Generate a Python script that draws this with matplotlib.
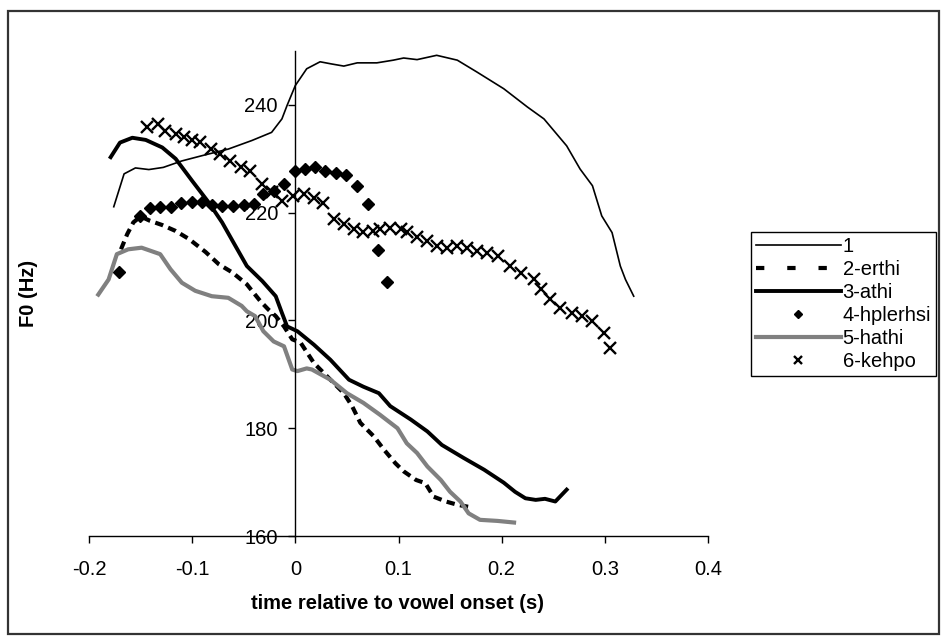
import numpy as np
import matplotlib
matplotlib.use("Agg")
import matplotlib.pyplot as plt
from matplotlib.lines import Line2D
from matplotlib.patches import Rectangle

plt.rcParams["font.family"] = ["Liberation Sans", "DejaVu Sans"]

# series 1 (thin black line)
t1 = [-0.176, -0.166, -0.155, -0.142, -0.128, -0.110, -0.090, -0.065, -0.042,
      -0.023, -0.013, -0.008, 0.000, 0.011, 0.024, 0.035, 0.047, 0.060, 0.079,
      0.095, 0.105, 0.118, 0.137, 0.157, 0.176, 0.202, 0.225, 0.241, 0.263,
      0.276, 0.288, 0.297, 0.307, 0.315, 0.320, 0.328]
f1 = [221.1, 227.2, 228.3, 228.0, 228.4, 229.6, 230.6, 231.8, 233.4,
      234.9, 237.4, 239.9, 243.6, 246.7, 248.0, 247.6, 247.2, 247.8, 247.8,
      248.3, 248.7, 248.4, 249.2, 248.3, 246.1, 243.0, 239.6, 237.4, 232.4,
      228.1, 225.0, 219.4, 216.3, 210.1, 207.6, 204.5]

# series 2 (dashed)
t2 = [-0.169, -0.163, -0.157, -0.150, -0.141, -0.129, -0.116, -0.103, -0.087,
      -0.074, -0.061, -0.047, -0.042, -0.034, -0.026, -0.019, -0.011, -0.003,
      0.005, 0.018, 0.034, 0.047, 0.055, 0.063, 0.076, 0.086, 0.097, 0.105,
      0.117, 0.126, 0.134, 0.146, 0.157, 0.171]
f2 = [213.2, 216.0, 218.2, 219.3, 218.5, 217.7, 216.6, 215.1, 212.7,
      210.4, 208.9, 206.7, 205.5, 203.6, 202.0, 200.8, 198.9, 196.5,
      195.9, 192.1, 189.0, 186.5, 184.1, 181.0, 178.5, 176.0, 173.5, 172.0,
      170.4, 169.8, 167.3, 166.4, 165.8, 165.3]

# series 3 (thick black line)
t3 = [-0.179, -0.170, -0.158, -0.145, -0.129, -0.116, -0.100, -0.084, -0.071,
      -0.058, -0.047, -0.032, -0.019, -0.013, -0.008, 0.002, 0.018, 0.034,
      0.052, 0.066, 0.081, 0.092, 0.112, 0.128, 0.142, 0.163, 0.183, 0.202,
      0.213, 0.223, 0.233, 0.242, 0.252, 0.263]
f3 = [230.3, 233.0, 233.9, 233.5, 232.1, 230.0, 225.9, 221.9, 218.2,
      213.8, 210.1, 207.3, 204.5, 201.4, 198.9, 198.0, 195.5, 192.7,
      189.0, 187.7, 186.5, 184.1, 181.6, 179.4, 176.9, 174.5, 172.3, 169.9,
      168.2, 167.0, 166.7, 166.9, 166.4, 168.6]

# series 4 (diamonds)
t4 = [-0.171, -0.151, -0.141, -0.131, -0.121, -0.111, -0.100, -0.090, -0.081,
      -0.071, -0.060, -0.050, -0.040, -0.031, -0.021, -0.011, 0.000, 0.009,
      0.019, 0.029, 0.039, 0.049, 0.060, 0.070, 0.080, 0.089]
f4 = [208.9, 219.4, 220.8, 221.0, 221.1, 221.8, 221.9, 221.9, 221.4,
      221.3, 221.2, 221.4, 221.6, 223.4, 224.1, 225.3, 227.7, 228.1,
      228.4, 227.7, 227.4, 227.0, 225.0, 221.6, 213.0, 207.1]

# series 5 (grey line)
t5 = [-0.191, -0.181, -0.173, -0.162, -0.149, -0.131, -0.121, -0.110, -0.097,
      -0.081, -0.065, -0.052, -0.047, -0.039, -0.031, -0.021, -0.011, -0.003,
      0.002, 0.011, 0.016, 0.034, 0.050, 0.066, 0.082, 0.099, 0.108, 0.118,
      0.128, 0.141, 0.150, 0.160, 0.168, 0.179, 0.196, 0.212]
f5 = [204.8, 207.6, 212.3, 213.2, 213.5, 212.3, 209.5, 207.0, 205.5,
      204.5, 204.2, 202.7, 201.7, 200.8, 198.0, 196.1, 195.2, 190.9,
      190.6, 191.1, 190.9, 189.0, 186.5, 184.7, 182.5, 180.0, 177.2, 175.4,
      172.9, 170.4, 168.2, 166.4, 164.2, 163.0, 162.8, 162.5]

# series 6 (x markers)
t6 = [-0.144, -0.133, -0.126, -0.116, -0.108, -0.100, -0.092, -0.082, -0.073,
      -0.063, -0.053, -0.044, -0.032, -0.023, -0.013, -0.002, 0.008, 0.018,
      0.027, 0.037, 0.047, 0.057, 0.066, 0.075, 0.082, 0.092, 0.102, 0.108,
      0.118, 0.128, 0.137, 0.147, 0.157, 0.166, 0.176, 0.186, 0.196, 0.208,
      0.219, 0.231, 0.238, 0.247, 0.257, 0.268, 0.278, 0.288, 0.299, 0.305]
f6 = [235.9, 236.5, 235.2, 234.6, 234.0, 233.4, 233.1, 231.8, 230.9,
      229.6, 228.4, 227.8, 225.3, 223.8, 222.2, 223.1, 223.4, 222.8,
      221.8, 218.8, 217.9, 216.9, 216.4, 216.6, 216.9, 217.2, 216.9, 216.4,
      215.4, 214.8, 213.8, 213.5, 213.8, 213.5, 212.9, 212.6, 212.0, 210.1,
      208.8, 207.6, 205.8, 203.9, 202.4, 201.4, 200.8, 199.9, 197.7, 194.8]

labels = ["1", "2-erthi", "3-athi", "4-hplerhsi", "5-hathi", "6-kehpo"]
xticks = [-0.2, -0.1, 0, 0.1, 0.2, 0.3, 0.4]
yticks = [160, 180, 200, 220, 240]

fs = 14.5
fig = plt.figure(figsize=(9.41, 6.40), dpi=100)
ax = fig.add_axes([89 / 941, 1 - 536 / 640, 619 / 941, 485 / 640])

l1, = ax.plot(t1, f1, color="black", lw=1.2)
ax.plot(t2, f2, color="black", lw=3, dashes=(2, 1.3), dash_capstyle="butt")
l3, = ax.plot(t3, f3, color="black", lw=2.8)
l4, = ax.plot(t4, f4, ls="none", marker="D", ms=6.5, color="black")
l5, = ax.plot(t5, f5, color="#808080", lw=3)
l6, = ax.plot(t6, f6, ls="none", marker="x", ms=8.5, mew=1.7, color="black")
# legend sample for the dashed series uses Excel's wider gaps
l2 = Line2D([], [], color="black", lw=3, dashes=(2, 5.5), dash_capstyle="butt")

ax.set_xlim(-0.2, 0.4)
ax.set_ylim(160, 250)
ax.set_xticks(xticks)
ax.set_xticklabels(["-0.2", "-0.1", "0", "0.1", "0.2", "0.3", "0.4"])
ax.set_yticks(yticks)
ax.spines["left"].set_position(("data", 0))
ax.spines["top"].set_visible(False)
ax.spines["right"].set_visible(False)
for s in ["left", "bottom"]:
    ax.spines[s].set_linewidth(1)
ax.tick_params(axis="both", direction="out", length=5, width=1, labelsize=fs)
ax.tick_params(axis="x", pad=12)
ax.tick_params(axis="y", pad=7.5)

ax.set_xlabel("time relative to vowel onset (s)", fontsize=fs, fontweight="bold")
ax.set_ylabel("F0 (Hz)", fontsize=fs, fontweight="bold")
ax.xaxis.set_label_coords(0.499, -0.12)
ax.yaxis.set_label_coords(-0.082, 0.5)

leg = ax.legend([l1, l2, l3, l4, l5, l6], labels,
                loc="upper left", bbox_to_anchor=(751 / 941, 1 - 232 / 640),
                bbox_transform=fig.transFigure, fontsize=fs, frameon=True,
                fancybox=False, edgecolor="black", framealpha=1,
                handlelength=4.2, handletextpad=0.1, labelspacing=0.2,
                borderpad=0.25, borderaxespad=0, markerscale=0.7)
leg.get_frame().set_linewidth(1)

# chart area border
fig.patches.append(Rectangle((8 / 941, 1 - 634 / 640), 931 / 941, 623 / 640,
                             transform=fig.transFigure, fill=False,
                             edgecolor="#333333", lw=1.6))

fig.savefig("out.png", dpi=100)
